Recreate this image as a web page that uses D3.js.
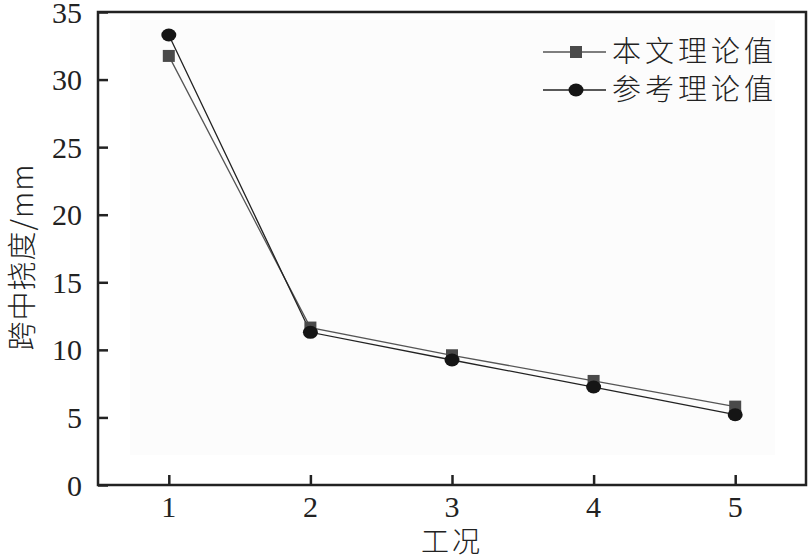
<!DOCTYPE html>
<html><head><meta charset="utf-8">
<script src="https://cdn.jsdelivr.net/npm/d3@7"></script>
<style>body{margin:0;background:#fff}</style>
</head><body>
<script>
const cases = [1, 2, 3, 4, 5];
const seriesA = [31.75, 11.65, 9.6, 7.7, 5.8];   // 本文理论值
const seriesB = [33.3, 11.3, 9.25, 7.25, 5.2];   // 参考理论值
const yTicks = [0, 5, 10, 15, 20, 25, 30, 35];
const names = ["本文理论值", "参考理论值"];

const W = 809, H = 559;
const L = 98, R = 806, T = 12, B = 485;
const svg = d3.select("body").append("svg").attr("width", W).attr("height", H);
const x = d3.scaleLinear().domain([0.5, 5.5]).range([L, R]);
const y = d3.scaleLinear().domain([0, 35]).range([B, T]);
const serif = "'Liberation Serif','Times New Roman',serif";
const cjk = "'Noto Sans CJK SC',sans-serif";

svg.append("rect").attr("x", 130).attr("y", 20).attr("width", 645).attr("height", 435).attr("fill", "#fcfcfc");

// frame
svg.append("rect").attr("x", L).attr("y", T).attr("width", R - L).attr("height", B - T)
  .attr("fill", "none").attr("stroke", "#222").attr("stroke-width", 2.5);

const yAxis = svg.append("g").attr("transform", `translate(${L},0)`)
  .call(d3.axisRight(y).tickValues(yTicks).tickSize(10).tickFormat(""));
yAxis.select(".domain").remove();
yAxis.selectAll("line").attr("stroke", "#222").attr("stroke-width", 2.5);
svg.append("g").selectAll("text").data(yTicks).join("text")
  .attr("x", 82).attr("y", d => y(d)).attr("dy", "0.35em").attr("text-anchor", "end")
  .attr("font-family", serif).attr("font-size", 30).attr("fill", "#222").text(d => d);

const xAxis = svg.append("g").attr("transform", `translate(0,${B})`)
  .call(d3.axisTop(x).tickValues(cases).tickSize(10).tickFormat(""));
xAxis.select(".domain").remove();
xAxis.selectAll("line").attr("stroke", "#222").attr("stroke-width", 2.5);
svg.append("g").selectAll("text").data(cases).join("text")
  .attr("x", d => x(d)).attr("y", 517).attr("text-anchor", "middle")
  .attr("font-family", serif).attr("font-size", 30).attr("fill", "#222").text(d => d);

const line = d3.line().x((d, i) => x(cases[i])).y(d => y(d));
svg.append("path").datum(seriesA).attr("d", line).attr("fill", "none").attr("stroke", "#555").attr("stroke-width", 1.3);
svg.append("path").datum(seriesB).attr("d", line).attr("fill", "none").attr("stroke", "#222").attr("stroke-width", 1.3);

svg.append("g").selectAll("rect").data(seriesA).join("rect")
  .attr("x", (d, i) => x(cases[i]) - 6).attr("y", d => y(d) - 6).attr("width", 12).attr("height", 12).attr("fill", "#4a4a4a");
svg.append("g").selectAll("ellipse").data(seriesB).join("ellipse")
  .attr("cx", (d, i) => x(cases[i])).attr("cy", d => y(d)).attr("rx", 7.5).attr("ry", 6.5).attr("fill", "#151515");

// legend
const lg = svg.append("g");
[0, 1].forEach(k => {
  const cy = k === 0 ? 52 : 90;
  lg.append("line").attr("x1", 543).attr("x2", 606).attr("y1", cy).attr("y2", cy).attr("stroke", k ? "#222" : "#555").attr("stroke-width", 1.3);
  if (k === 0) lg.append("rect").attr("x", 570).attr("y", cy - 6).attr("width", 12).attr("height", 12).attr("fill", "#4a4a4a");
  else lg.append("ellipse").attr("cx", 576).attr("cy", cy).attr("rx", 7.5).attr("ry", 6.5).attr("fill", "#151515");
  lg.append("text").attr("x", 612).attr("y", cy).attr("dy", "0.36em").attr("font-family", cjk)
    .attr("font-weight", 300).attr("font-size", 29).attr("letter-spacing", 4).attr("fill", "#222").text(names[k]);
});

svg.append("text").attr("transform", "translate(23,257) rotate(-90)").attr("text-anchor", "middle")
  .attr("dy", "0.35em").attr("font-family", cjk).attr("font-weight", 300).attr("font-size", 29).attr("letter-spacing", 1).attr("fill", "#222").text("跨中挠度/mm");
svg.append("text").attr("x", 452).attr("y", 542).attr("dy", "0.36em").attr("text-anchor", "middle")
  .attr("font-family", cjk).attr("font-weight", 300).attr("font-size", 28).attr("letter-spacing", 3).attr("fill", "#222").text("工况");
</script>
</body></html>
